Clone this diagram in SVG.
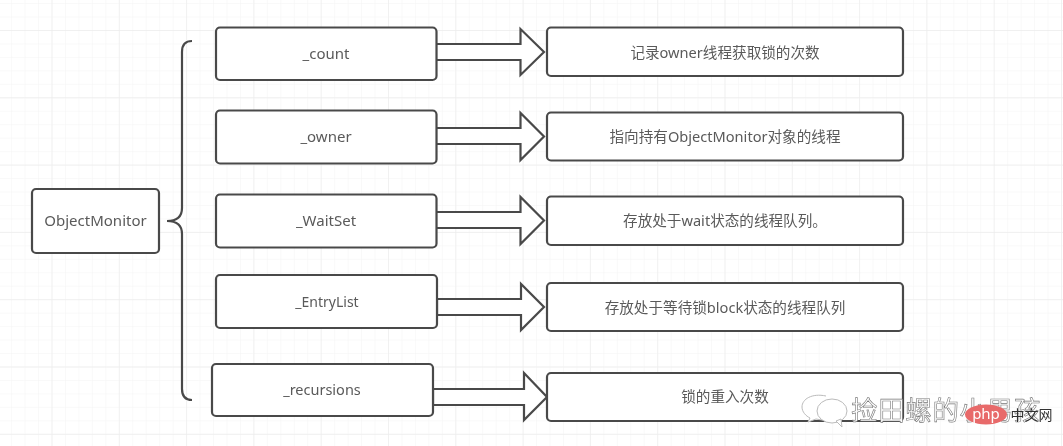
<svg xmlns="http://www.w3.org/2000/svg" width="1063" height="446" viewBox="0 0 1063 446">
<style>
.n{fill:#fff;stroke:#4a4a4a;stroke-width:2.2}
.a{fill:#fff;stroke:#4a4a4a;stroke-width:2.2;stroke-linejoin:miter}
text{font-family:"Noto Sans","Noto Sans CJK SC",sans-serif;text-anchor:middle;fill:#5a5a5a}
.l{font-size:15px}
.r{font-size:14.6px}
.g1{stroke:#f4f4f4;stroke-width:1}
.g2{stroke:#ededed;stroke-width:1.3}
</style>
<defs>
<pattern id="minor" x="51.5" y="30" width="13.46" height="13.46" patternUnits="userSpaceOnUse"><path d="M0 0V13.46M0 0H13.46" class="g1" fill="none"/></pattern>
<pattern id="major" x="51.5" y="30" width="67.3" height="67.3" patternUnits="userSpaceOnUse"><path d="M0 0V67.3M0 0H67.3" class="g2" fill="none"/></pattern>
<filter id="soft" x="-2%" y="-2%" width="104%" height="104%"><feGaussianBlur stdDeviation="0.4"/></filter>
</defs>
<rect width="1063" height="446" fill="#fff"/>
<rect width="1063" height="446" fill="url(#minor)"/>
<rect width="1063" height="446" fill="url(#major)"/>
<g filter="url(#soft)">
<g id="connectors">
<path class="a" d="M436 44H520.500V29L544 52L520.500 75V60H436Z"/>
<path class="a" d="M436 128H520.500V113L544 136.500L520.500 160V144H436Z"/>
<path class="a" d="M436 212H520.500V197L544 220.500L520.500 244V228H436Z"/>
<path class="a" d="M437 299H521V284L544 307L521 330V315H437Z"/>
<path class="a" d="M433 389H524V373L547 397L524 420V405H433Z"/>
<path d="M192 41Q182 41 182 52V208Q182 221 167 221Q182 221 182 234V389Q182 400 192 400" fill="none" stroke="#4a4a4a" stroke-width="2.200"/>
</g>
<g id="objectmonitor"><rect class="n" x="32" y="189" width="127" height="64" rx="4"/><text class="l" x="95.500" y="226">ObjectMonitor</text></g>
<g id="count"><rect class="n" x="216" y="27.500" width="220.500" height="52.500" rx="4"/><text class="l" x="326" y="59">_count</text></g>
<g id="owner"><rect class="n" x="216" y="110.500" width="220.500" height="53" rx="4"/><text class="l" x="326" y="142">_owner</text></g>
<g id="waitset"><rect class="n" x="216" y="194.500" width="220.500" height="53" rx="4"/><text class="l" x="326" y="226">_WaitSet</text></g>
<g id="entrylist"><rect class="n" x="216" y="275" width="221" height="53" rx="4"/><text class="l" x="327" y="307" style="font-size:14px">_EntryList</text></g>
<g id="recursions"><rect class="n" x="212" y="364" width="221" height="52" rx="4"/><text class="l" x="322" y="395" style="font-size:14.500px">_recursions</text></g>
<g id="d-count"><rect class="n" x="547" y="27.500" width="356" height="48.500" rx="4"/><text class="r" x="725" y="58">记录owner线程获取锁的次数</text></g>
<g id="d-owner"><rect class="n" x="547" y="112.500" width="356" height="48" rx="4"/><text class="r" x="725" y="142">指向持有ObjectMonitor对象的线程</text></g>
<g id="d-waitset"><rect class="n" x="547" y="196.500" width="356" height="48.500" rx="4"/><text class="r" x="725" y="226">存放处于wait状态的线程队列。</text></g>
<g id="d-entrylist"><rect class="n" x="547" y="283" width="356" height="48" rx="4"/><text class="r" x="725" y="312.500">存放处于等待锁block状态的线程队列</text></g>
<g id="d-recursions"><rect class="n" x="547" y="373" width="356" height="48" rx="4"/><text class="r" x="725" y="402">锁的重入次数</text></g>
<g id="watermark">
<path d="M826 396C812 393 802 399 802 407C802 412 806 416 810 418L808 422L816 419L822 420" fill="#fff" stroke="#bbb" stroke-width="1"/>
<ellipse cx="832" cy="411" rx="15" ry="12" fill="#fff" stroke="#bbb" stroke-width="1"/>
<path d="M836 421L842 427L841 419Z" fill="#fff" stroke="#bbb" stroke-width="1"/>
<text x="946" y="420" style="font-size:26.500px;fill:#fff;stroke:#777;stroke-width:.6;letter-spacing:.6px">捡田螺的小男孩</text>
<ellipse cx="986" cy="414.500" rx="21" ry="10" fill="#e86a6a"/>
<text x="986" y="419" style="font-size:15px;fill:#fff">php</text>
<text x="1031.500" y="419.500" style="font-size:14px;fill:#333">中文网</text>
</g>
</g>
</svg>
